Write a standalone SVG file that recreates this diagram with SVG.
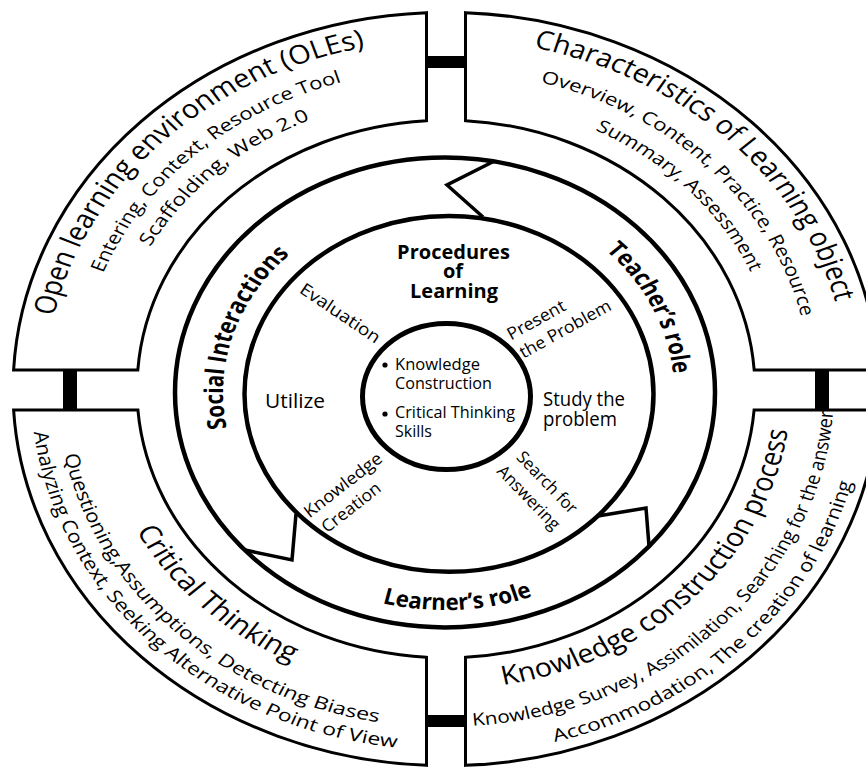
<svg xmlns="http://www.w3.org/2000/svg" width="866" height="767" viewBox="0 0 866 767">
<style>
.box{fill:#fff;stroke:#000;stroke-width:3;vector-effect:non-scaling-stroke}
.ring{fill:none;stroke:#000;stroke-width:4.5;vector-effect:non-scaling-stroke}
.core{fill:none;stroke:#000;stroke-width:5;vector-effect:non-scaling-stroke}
.div{fill:none;stroke:#000;stroke-width:3.5;stroke-linejoin:miter}
.bar{fill:#000}
text{font-family:"Open Sans","Liberation Sans",sans-serif;fill:#000}
.t{font-size:30px}
.s{font-size:20px}
.r{font-size:26px;font-weight:bold}
.p{font-size:20px;font-weight:bold}
.u{font-size:20px}
.i{font-size:17px}
.c{font-size:15.5px}
</style>
<defs>
<path id="pTL1" d="M -387.7 102.4 A 401 401 0 0 1 105.1 -387.0"/>
<path id="pTL2" d="M -359.1 80.3 A 368 368 0 0 1 110.0 -351.1"/>
<path id="pTL3" d="M -330.1 72.6 A 338 338 0 0 1 102.2 -322.2"/>
<path id="pTR1" d="M -110.1 -386.6 A 402 402 0 0 1 389.9 97.9"/>
<path id="pTR2" d="M -88.9 -354.0 A 365 365 0 0 1 351.0 100.0"/>
<path id="pTR3" d="M -78.3 -323.7 A 333 333 0 0 1 319.4 94.0"/>
<path id="pBL1" d="M -339.3 -85.9 A 350 350 0 0 0 95.3 336.8"/>
<path id="pBL2" d="M -376.8 -96.7 A 389 389 0 0 0 104.6 374.7"/>
<path id="pBL3" d="M -400.9 -107.4 A 415 415 0 0 0 107.4 400.9"/>
<path id="pBR1" d="M -84.6 334.4 A 345 345 0 0 0 332.0 -93.9"/>
<path id="pBR2" d="M -99.8 375.0 A 388 388 0 0 0 374.6 -101.1"/>
<path id="pBR3" d="M -108.0 405.9 A 420 420 0 0 0 405.5 -109.4"/>
<path id="pSoc" d="M -164.7 154.0 A 222 222 0 0 1 -49.0 -212.7"/>
<path id="pTea" d="M 17.4 -224.3 A 229 229 0 0 1 187.5 134.0"/>
<path id="pLea" d="M -210.7 140.2 A 250 250 0 0 0 221.8 117.5"/>
</defs>
<rect width="866" height="767" fill="#fff"/>

<g id="connectors">
<rect class="bar" x="424" y="56" width="44" height="12"/>
<rect class="bar" x="424" y="715" width="44" height="12"/>
<rect class="bar" x="63" y="367" width="14" height="46"/>
<rect class="bar" x="815" y="367" width="14" height="46"/>
</g>

<g transform="translate(446,389) scale(1,0.87)">
<g id="open-learning-environment">
<path class="box" d="M -432.4 -21.8 L -308.2 -21.8 A 309 309 0 0 1 -19.5 -308.4 L -19.5 -432.6 A 433 433 0 0 0 -432.4 -21.8 Z"/>
<text class="t" text-anchor="middle"><textPath href="#pTL1" startOffset="50%" textLength="464" lengthAdjust="spacingAndGlyphs">Open learning environment (OLEs)</textPath></text>
<text class="s" text-anchor="middle"><textPath href="#pTL2" startOffset="50%" textLength="336" lengthAdjust="spacingAndGlyphs">Entering, Context, Resource Tool</textPath></text>
<text class="s" text-anchor="middle"><textPath href="#pTL3" startOffset="50%" textLength="221" lengthAdjust="spacingAndGlyphs">Scaffolding, Web 2.0</textPath></text>
</g>
<g id="characteristics-of-learning-object">
<path class="box" d="M 19.5 -432.6 A 433 433 0 0 1 432.4 -21.8 L 308.2 -21.8 A 309 309 0 0 0 19.5 -308.4 Z"/>
<text class="t" text-anchor="middle"><textPath href="#pTR1" startOffset="50%" textLength="442" lengthAdjust="spacingAndGlyphs">Characteristics of Learning object</textPath></text>
<text class="s" text-anchor="middle"><textPath href="#pTR2" startOffset="50%" textLength="394" lengthAdjust="spacingAndGlyphs">Overview, Content, Practice, Resource</textPath></text>
<text class="s" text-anchor="middle"><textPath href="#pTR3" startOffset="50%" textLength="230" lengthAdjust="spacingAndGlyphs">Summary, Assessment</textPath></text>
</g>
<g id="critical-thinking">
<path class="box" d="M -432.4 24.1 L -308.1 24.1 A 309 309 0 0 0 -19.5 308.4 L -19.5 432.6 A 433 433 0 0 1 -432.4 24.1 Z"/>
<text class="t" text-anchor="middle"><textPath href="#pBL1" startOffset="50%" textLength="220" lengthAdjust="spacingAndGlyphs">Critical Thinking</textPath></text>
<text class="s" text-anchor="middle"><textPath href="#pBL2" startOffset="50%" textLength="467" lengthAdjust="spacingAndGlyphs">Questioning,Assumptions, Detecting Biases</textPath></text>
<text class="s" text-anchor="middle"><textPath href="#pBL3" startOffset="50%" textLength="553" lengthAdjust="spacingAndGlyphs">Analyzing Context, Seeking Alternative Point of View</textPath></text>
</g>
<g id="knowledge-construction-process">
<path class="box" d="M 19.5 308.4 A 309 309 0 0 0 308.1 24.1 L 432.4 24.1 A 433 433 0 0 1 19.5 432.6 Z"/>
<text class="t" text-anchor="middle"><textPath href="#pBR1" startOffset="50%" textLength="437" lengthAdjust="spacingAndGlyphs">Knowledge construction process</textPath></text>
<text class="s" text-anchor="middle"><textPath href="#pBR2" startOffset="50%" textLength="557" lengthAdjust="spacingAndGlyphs">Knowledge Survey, Assimilation, Searching for the answer</textPath></text>
<text class="s" text-anchor="middle"><textPath href="#pBR3" startOffset="50%" textLength="441" lengthAdjust="spacingAndGlyphs">Accommodation, The creation of learning</textPath></text>
</g>
<g id="roles-ring">
<circle class="ring" cx="-1" cy="4" r="270"/>
<circle class="ring" cx="3" cy="5.7" r="204.5"/>
</g>
<g id="social-interactions">
<text class="r" text-anchor="middle"><textPath href="#pSoc" startOffset="50%" textLength="218" lengthAdjust="spacingAndGlyphs">Social Interactions</textPath></text>
</g>
<g id="teachers-role">
<text class="r" text-anchor="middle"><textPath href="#pTea" startOffset="50%" textLength="160" lengthAdjust="spacingAndGlyphs">Teacher’s role</textPath></text>
</g>
<g id="learners-role">
<text class="r" text-anchor="middle"><textPath href="#pLea" startOffset="50%" textLength="153" lengthAdjust="spacingAndGlyphs">Learner’s role</textPath></text>
</g>
<g id="core-circle">
<circle class="core" cx="0.5" cy="8.6" r="84"/>
</g>
</g>

<g id="role-dividers">
<polyline class="div" points="493.5,161.5 447,185 483,217"/>
<polyline class="div" points="598,516 646,508 649,546"/>
<polyline class="div" points="296,514 292,560 245,550"/>
</g>

<g id="procedures-of-learning">
<text class="p" x="453.5" y="259" text-anchor="middle">Procedures</text>
<text class="p" x="453" y="278" text-anchor="middle">of</text>
<text class="p" x="454" y="298" text-anchor="middle">Learning</text>
<text class="i" transform="translate(337,318) rotate(34)" text-anchor="middle" textLength="93" lengthAdjust="spacingAndGlyphs">Evaluation</text>
<text class="i" transform="translate(539,325) rotate(-29)" text-anchor="middle" textLength="64" lengthAdjust="spacingAndGlyphs">Present</text>
<text class="i" transform="translate(568,334) rotate(-29)" text-anchor="middle" textLength="102" lengthAdjust="spacingAndGlyphs">the Problem</text>
<text class="u" x="265" y="408" textLength="60" lengthAdjust="spacingAndGlyphs">Utilize</text>
<text class="u" x="543" y="406" textLength="82" lengthAdjust="spacingAndGlyphs">Study the</text>
<text class="u" x="543" y="426" textLength="74" lengthAdjust="spacingAndGlyphs">problem</text>
<text class="i" transform="translate(346.5,489.5) rotate(-38)" text-anchor="middle" textLength="94" lengthAdjust="spacingAndGlyphs">Knowledge</text>
<text class="i" transform="translate(354.7,512) rotate(-38)" text-anchor="middle" textLength="70" lengthAdjust="spacingAndGlyphs">Creation</text>
<text class="i" transform="translate(543,486.5) rotate(46)" text-anchor="middle" textLength="79" lengthAdjust="spacingAndGlyphs">Search for</text>
<text class="i" transform="translate(524.5,501.5) rotate(46)" text-anchor="middle" textLength="82" lengthAdjust="spacingAndGlyphs">Answering</text>
</g>

<g id="core-content">
<circle cx="385" cy="365" r="2.6" fill="#000"/>
<circle cx="385" cy="414" r="2.6" fill="#000"/>
<text class="c" x="395" y="370" textLength="85" lengthAdjust="spacingAndGlyphs">Knowledge</text>
<text class="c" x="395" y="389" textLength="97" lengthAdjust="spacingAndGlyphs">Construction</text>
<text class="c" x="395" y="418" textLength="120" lengthAdjust="spacingAndGlyphs">Critical Thinking</text>
<text class="c" x="395" y="437" textLength="37" lengthAdjust="spacingAndGlyphs">Skills</text>
</g>
</svg>
